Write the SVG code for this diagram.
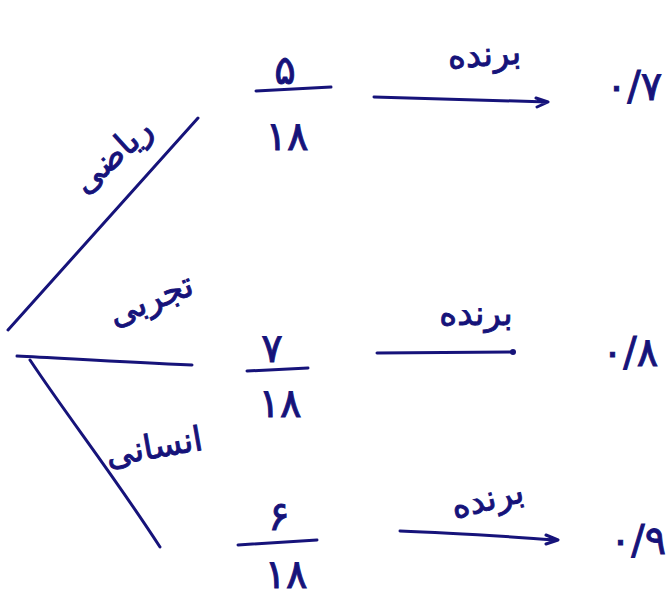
<svg xmlns="http://www.w3.org/2000/svg" width="670" height="596" viewBox="0 0 670 596">
<style>
.ln{fill:none;stroke:#16137a;stroke-width:3;stroke-linecap:round;stroke-linejoin:round}
.t{fill:#16137a;stroke:#16137a;stroke-width:0.9;font-family:"DejaVu Sans","Noto Sans",sans-serif;text-anchor:middle}
.d{font-size:40px}
.w{font-size:34px}
</style>
<rect width="670" height="596" fill="#ffffff"/>
<g id="connectors">
  <path class="ln" d="M8,330 L198,118"/>
  <path class="ln" d="M17,356 C60,358 120,362 192,365"/>
  <path class="ln" d="M30,360 C70,420 110,470 160,547"/>
  <path class="ln" d="M374,97 L548,102 M536,98 L548,102 L537,107"/>
  <path class="ln" d="M377,353 L513,352"/>
  <circle cx="513" cy="352" r="3" fill="#16137a"/>
  <path class="ln" d="M400,531 C460,533 510,537 558,540 M546,535 L558,540 L546,544"/>
</g>
<g id="branch-riazi">
  <text class="t w" transform="translate(120,164) rotate(-42)">ریاضی</text>
</g>
<g id="branch-tajrobi">
  <text class="t w" transform="translate(155,310) rotate(-22)">تجربی</text>
</g>
<g id="branch-ensani">
  <text class="t w" transform="translate(156,458) rotate(-10)">انسانی</text>
</g>
<g id="frac-1">
  <path class="ln" d="M256,91 L331,87"/>
  <text class="t d" x="285" y="84">۵</text>
  <text class="t d" x="287" y="150">۱۸</text>
</g>
<g id="frac-2">
  <path class="ln" d="M247,371 L308,368"/>
  <text class="t d" x="272" y="362">۷</text>
  <text class="t d" x="280" y="417">۱۸</text>
</g>
<g id="frac-3">
  <path class="ln" d="M238,545 L317,540"/>
  <text class="t d" x="279" y="530">۶</text>
  <text class="t d" x="286" y="588">۱۸</text>
</g>
<g id="win-1">
  <text class="t w" transform="translate(485,66) rotate(-4)">برنده</text>
</g>
<g id="win-2">
  <text class="t w" transform="translate(476,325)">برنده</text>
</g>
<g id="win-3">
  <text class="t w" transform="translate(490,510) rotate(-14)">برنده</text>
</g>
<g id="result-1">
  <text class="t d" x="634" y="100">۰/۷</text>
</g>
<g id="result-2">
  <text class="t d" x="630" y="366">۰/۸</text>
</g>
<g id="result-3">
  <text class="t d" x="638" y="554">۰/۹</text>
</g>
</svg>
